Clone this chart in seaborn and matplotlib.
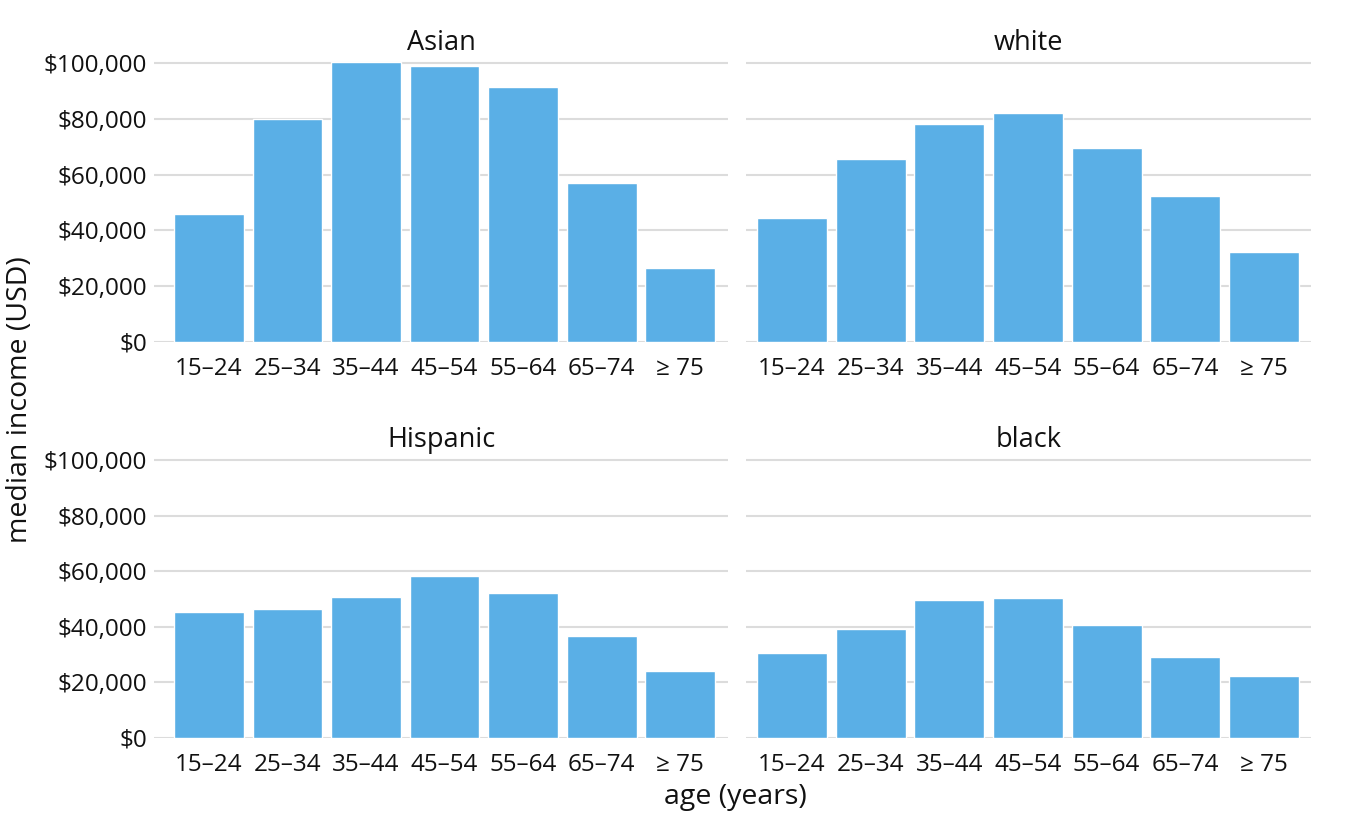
import matplotlib
matplotlib.use("Agg")
import matplotlib.pyplot as plt
import seaborn as sns
import pandas as pd
from matplotlib.ticker import FuncFormatter

ages = ["15–24", "25–34", "35–44", "45–54", "55–64", "65–74", "≥ 75"]
groups = ["Asian", "white", "Hispanic", "black"]
income_asian = [45900, 79900, 100300, 98900, 91400, 57000, 26500]
income_white = [44300, 65500, 78100, 82200, 69400, 52300, 32400]
income_hispanic = [45200, 46300, 50600, 58400, 52200, 36800, 24100]
income_black = [30500, 39200, 49600, 50200, 40600, 29000, 22300]

values = {"Asian": income_asian, "white": income_white,
          "Hispanic": income_hispanic, "black": income_black}
df = pd.DataFrame([(g, a, v) for g in groups for a, v in zip(ages, values[g])],
                  columns=["race", "age", "income"])

sns.set_theme(style="white")
plt.rcParams["font.family"] = ["Open Sans", "DejaVu Sans"]

fig = plt.figure(figsize=(13.64, 8.18), dpi=100)
W, H = 1364, 818
positions = {
    "Asian": (154, 57.4, 728, 342, -0.70, 6.61),
    "white": (746, 57.4, 1311, 342, -0.585, 6.60),
    "Hispanic": (154, 454.4, 728, 738, -0.70, 6.61),
    "black": (746, 454.4, 1311, 738, -0.585, 6.60),
}

txt = "#111111"
fmt = FuncFormatter(lambda v, p: f"${v:,.0f}")
for g in groups:
    x0, y0, x1, y1, xl, xr = positions[g]
    ax = fig.add_axes([x0 / W, 1 - y1 / H, (x1 - x0) / W, (y1 - y0) / H])
    sub = df[df.race == g]
    sns.barplot(data=sub, x="age", y="income", order=ages, color="#5AAFE6",
                saturation=1, width=0.89, ax=ax, zorder=2)
    ax.set_xlim(xl, xr)
    ax.set_ylim(0, 102000)
    ax.set_yticks([0, 20000, 40000, 60000, 80000, 100000])
    ax.yaxis.set_major_formatter(fmt)
    ax.grid(axis="y", color="#dcdcdc", linewidth=1.5, zorder=0)
    ax.set_axisbelow(True)
    for s in ax.spines.values():
        s.set_visible(False)
    ax.tick_params(axis="both", length=0, labelsize=17.5, colors=txt)
    ax.tick_params(axis="x", pad=11)
    ax.tick_params(axis="y", pad=5)
    ax.set_xlabel("")
    ax.set_ylabel("")
    if g in ("white", "black"):
        ax.set_yticklabels([])
    ax.set_title(g, fontsize=19.5, pad=5, color=txt)

fig.text(735 / W, 1 - 797 / H, "age (years)", ha="center", va="center",
         fontsize=20.5, color=txt)
fig.text(20 / W, 1 - 400 / H, "median income (USD)", ha="center", va="center",
         rotation=90, fontsize=20.5, color=txt)

fig.savefig("out.png", dpi=100, facecolor="white")
